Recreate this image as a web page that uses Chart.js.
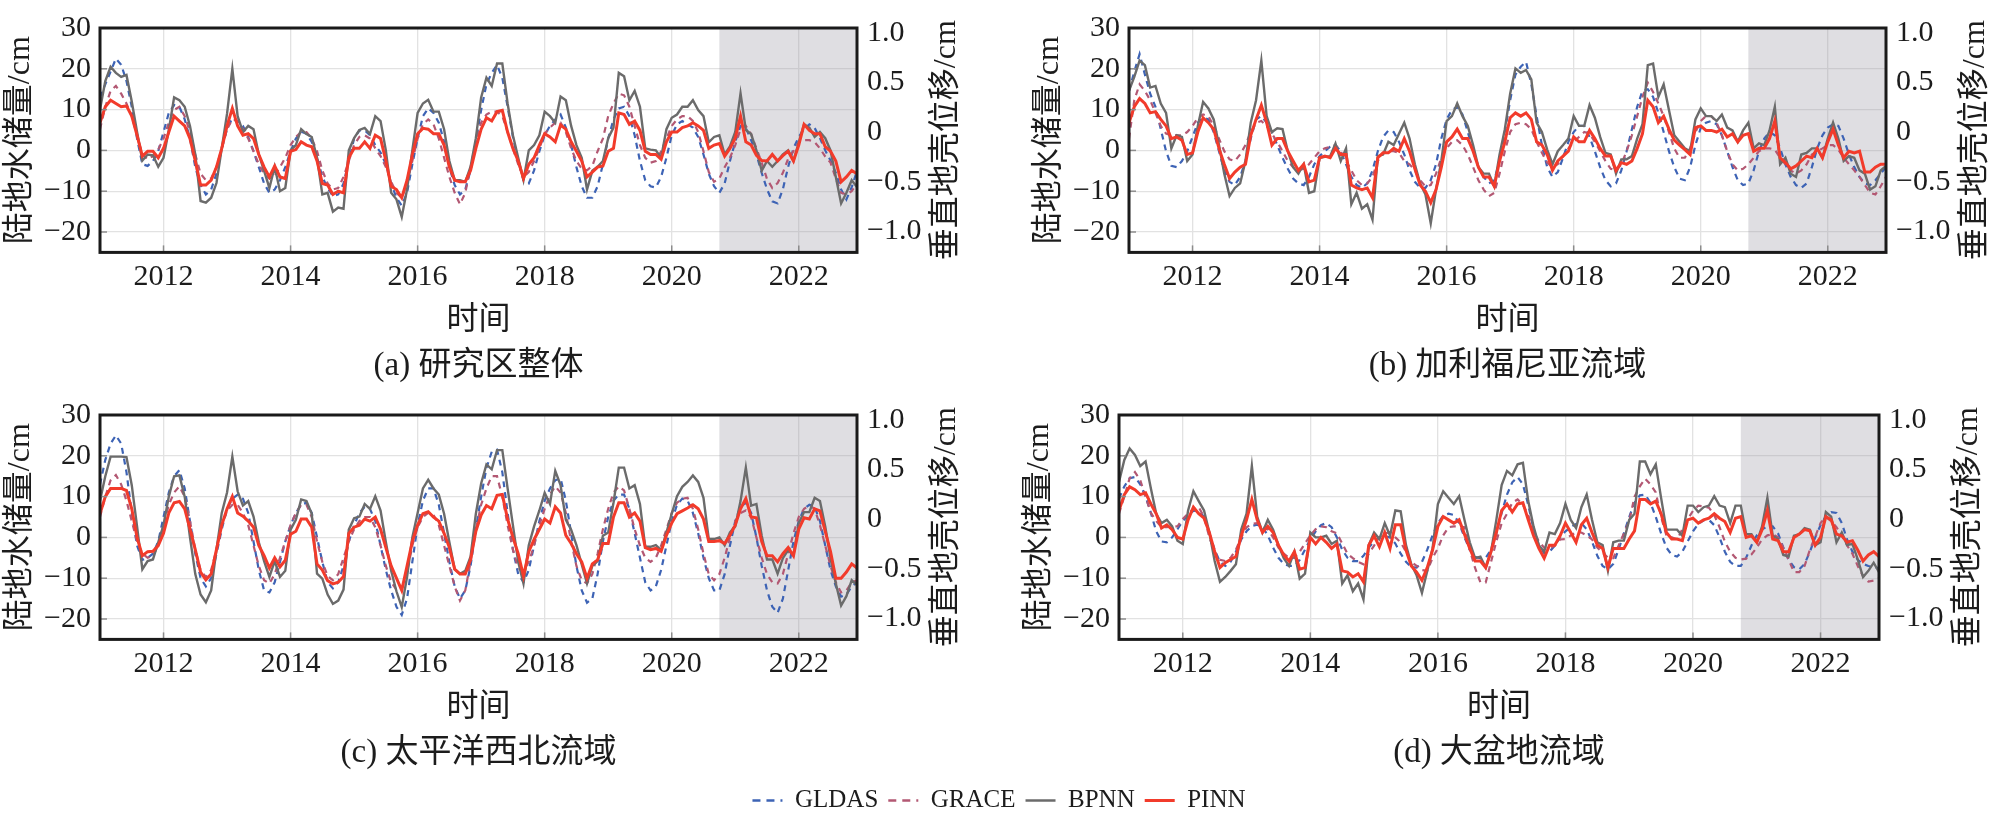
<!DOCTYPE html>
<html lang="zh-CN">
<head>
  <meta charset="UTF-8" />
  <title>陆地水储量与垂直地壳位移</title>
  <script src="https://cdn.jsdelivr.net/npm/chart.js"></script>
  <style>
    html, body { margin: 0; padding: 0; background: #fff; }
    body { width: 1998px; height: 822px; position: relative; overflow: hidden; }
    canvas { position: absolute; }
  </style>
</head>
<body>
  <canvas id="panelA" width="999" height="390" style="left:0;top:0"></canvas>
  <canvas id="panelB" width="969" height="390" style="left:1029px;top:0"></canvas>
  <canvas id="panelC" width="999" height="390" style="left:0;top:387px"></canvas>
  <canvas id="panelD" width="979" height="390" style="left:1019px;top:387px"></canvas>
  <canvas id="legend" width="1998" height="100" style="left:0;top:778px"></canvas>

  <script>
    // monthly series, Jan 2011 .. Dec 2022 (one row per year)
    const START_YEAR = 2011;
    const SHADE_START = 2020.75;
    const yearTicks = [2012, 2014, 2016, 2018, 2020, 2022];
    const twsTicks = [-20, -10, 0, 10, 20, 30];
    const dispTicks = [-1, -0.5, 0, 0.5, 1];
    const seriesNames = ['GLDAS', 'GRACE', 'BPNN', 'PINN'];
    const captions = ['(a) 研究区整体', '(b) 加利福尼亚流域', '(c) 太平洋西北流域', '(d) 大盆地流域'];

    // (a) 研究区整体
    const gldasA = [
      13, 16.2, 19.3, 22.5, 21, 17, 10.7, 2.9, -3.4, -3.8, -2.6, -0.2,
      4.5, 9.2, 11.1, 10.7, 7.6, 2.9, -4.1, -8.5, -10.8, -9.6, -5.7, 0.5,
      5.2, 8, 7.2, 6, 3.3, -0.2, -4.1, -8.1, -10.4, -9.6, -7.3, -4.1,
      -0.2, 2.9, 4.6, 4.1, 2.1, -1.8, -6.5, -9.2, -11.2, -10.8, -8.1, -2.6,
      2.9, 4.9, 4.9, 3.7, 1.3, -0.5, -3.4, -8.1, -11.6, -13.5, -10.4, -3.4,
      2.9, 8.4, 10.3, 9.2, 6.8, 2.1, -4.1, -8.5, -10.8, -9.6, -4.9, 2.1,
      9.9, 16.2, 19, 20.9, 17.8, 10.7, 3.3, -2.6, -7.3, -8.1, -4.9, -0.2,
      3.7, 6, 7.6, 8.8, 5.6, 1.3, -4.1, -8.8, -11.6, -11.6, -8.8, -3.4,
      2.9, 7.6, 10.3, 10.7, 8.4, 3.7, -2.6, -7.3, -8.8, -9.1, -6.5, -1.8,
      3.7, 6.4, 7.2, 6.4, 5.6, 3.3, -1, -5.7, -8.8, -10.4, -8.1, -2.6,
      2.1, 6, 5.5, 2.5, -1, -5.5, -9.5, -12.5, -13, -9.5, -4, 0.5,
      3.3, 5.2, 6.4, 5.5, 3, 0, -2.5, -5.5, -9.6, -12, -9, -5
    ];
    const graceA = [
      5.2, 10.7, 14.6, 15.8, 13.9, 11.5, 8.4, 3.7, -1, -2.2, -1.4, 0.2,
      2.9, 6.8, 9.9, 10.7, 8.4, 4.5, -1, -5.7, -7.3, -6.9, -4.1, 0.5,
      5.2, 7.6, 7.2, 5.2, 2.9, -0.2, -3.4, -5.7, -6.9, -6.1, -4.1, -1.8,
      1.3, 3.3, 4.5, 4.5, 2.9, -0.2, -4.9, -8.1, -9.6, -9.2, -6.5, -2.6,
      1.3, 3.3, 3.7, 2.9, 0.5, -1.4, -4.1, -7.7, -10.4, -11.6, -8.1, -2.6,
      2.9, 6.4, 7.6, 6.4, 2.9, -1.8, -6.5, -10.4, -13.2, -10.4, -4.1, 2.1,
      6.8, 8.8, 9.5, 9.5, 8.4, 4.5, 0.5, -3.4, -6.5, -5.3, -2.6, 0.5,
      4.1, 5.6, 6.8, 6.8, 4.5, 0.5, -2.6, -4.5, -4.9, -3.8, -0.2, 2.9,
      8.4, 11.5, 13.9, 13.5, 10.7, 6, 1.3, -1.8, -3, -2.6, -0.2, 2.9,
      6, 7.6, 8.4, 8.4, 7.2, 4.5, -0.2, -5.3, -7.7, -6.9, -4.1, -1.8,
      1.3, 5.2, 6, 4, 0.5, -3, -7, -9.2, -8, -5.5, -2, -0.2,
      2, 2.5, 2.5, 2, 0.5, -1.5, -3, -6.9, -10.4, -10.8, -10, -8
    ];
    const bpnnA = [
      10, 17, 20.5, 19, 18, 18.5, 12, 4.5, -2.5, -1, -1.2, -4,
      -1.8, 5, 13, 12.3, 10.7, 6, -1, -12.4, -12.8, -11.6, -8, 0.5,
      9, 20, 8.4, 4.5, 6, 5.2, -1, -5, -9.2, -4, -10, -9.2,
      0, 1.3, 5.2, 4, 3.3, -1.8, -10.8, -10.4, -15, -14, -14.3, 0,
      3, 5, 5.5, 4, 8.4, 7.2, 0, -10.4, -12, -16.3, -9.6, 0,
      9.2, 11.5, 12.4, 9.5, 9.5, 5.2, -2.6, -7.3, -7.3, -7.7, -4, 3,
      13, 17.8, 15.8, 21.3, 21.3, 11.5, 3.7, -1.8, -7.3, 0, 1.3, 3.7,
      9.5, 8.4, 6.8, 13.2, 12.3, 6, 1.3, -1.8, -9.6, -5, -4, -2.6,
      3, 5.6, 19, 18.2, 12.3, 14.6, 10.7, 0.5, 0.2, 0, -1.8, 5.2,
      8, 8.8, 10.7, 10.7, 12.3, 9.9, 8.4, 2, 3.3, 3.7, -1, 1,
      4.5, 14, 5, 4, 0, -5, -2.6, -4, -2.6, -1, 0, -2.6,
      2, 6.4, 5.6, 3.3, 4.5, 3, 0, -6.5, -13, -10.4, -7.3, -9
    ];
    const pinnA = [
      6.8, 10.7, 12.3, 11.5, 10.7, 10.9, 8.4, 3.7, -1.4, -0.2, -0.2, -1.8,
      0.5, 4.5, 8.4, 7.2, 6, 2.9, -2.6, -8.5, -8.5, -7.3, -4.1, 0.5,
      6, 10.3, 6, 3.7, 4.1, 2.9, -1, -4.1, -6.5, -3.8, -6.5, -6.9,
      -0.2, 0.2, 2.1, 1.3, 0.9, -2.6, -8.1, -8.5, -10.8, -10, -10.4, -1.8,
      0.5, 0.5, 2.1, 0.5, 3.7, 2.9, -2.5, -8.8, -9.6, -11.6, -7.3, -1,
      4.1, 5.4, 5.2, 4.1, 4.1, 1.3, -4.1, -7.3, -7.7, -7.7, -4.9, 0.5,
      5.2, 8, 7.2, 9.5, 9.8, 4.5, 0.5, -2.6, -6.9, -3.4, -1.8, 1.3,
      4.1, 3.3, 2.1, 6.2, 5.2, 2.1, -0.2, -2.6, -6.5, -5.3, -4.1, -3.8,
      -0.2, 0.5, 9.2, 8.8, 6.4, 7.2, 4.9, -0.2, -1, -1, -2.2, 2.1,
      4.5, 4.5, 5.6, 6, 6.8, 6, 4.9, 0.5, 1.3, 1.7, -1.4, 0.5,
      3, 8.4, 2.1, 1.3, -1.2, -2.5, -2.6, -1, -2.6, -1.3, -0.2, -2.6,
      1.3, 6.4, 4.9, 4.1, 4.1, 0.9, -0.2, -2.6, -7.7, -6.5, -4.9, -5.7
    ];

    // (b) 加利福尼亚流域
    const gldasB = [
      14.6, 19.3, 23.6, 18.6, 13.9, 10.7, 5.2, -0.2, -3.8, -4.1, -2.6, -0.2,
      3.3, 6.8, 8, 7.6, 4.5, -0.2, -4.9, -7.7, -8.5, -6.5, -2.6, 2.9,
      7.6, 8.4, 6.8, 4.5, 1.3, -1.8, -4.5, -6.9, -8.1, -8.5, -6.5, -3.4,
      -1.4, -0.2, 0.9, 1.3, -0.2, -3.4, -6.5, -8.5, -9.2, -8.1, -4.9, -0.2,
      3.3, 4.9, 4.5, 2.1, -1, -4.9, -7.7, -9.2, -9.2, -7.3, -3.4, 2.9,
      7.6, 9.9, 10.7, 8.8, 4.5, -0.2, -4.1, -6.5, -8.1, -7.3, -2.6, 4.5,
      12.3, 18.6, 20.5, 21.7, 16.2, 8.4, 1.3, -4.1, -6.5, -5.3, -1.8, 2.1,
      4.5, 6, 6, 3.3, -0.2, -4.1, -7.3, -8.8, -8.1, -4.9, -0.2, 5.2,
      10.7, 14.6, 15, 13.1, 9.2, 4.5, -0.2, -4.1, -6.9, -7.3, -4.1, 1.3,
      5.5, 6.8, 7.2, 6.4, 3.7, -0.2, -4.1, -7.3, -8.5, -8.1, -4.9, -0.2,
      2.9, 4.5, 3.7, 0.5, -3.4, -6.5, -8.5, -9.2, -8.1, -4.1, 0.5, 3.7,
      5.6, 6.4, 6, 2.9, -1, -4.1, -6.5, -8.1, -8.5, -7.3, -5.7, -4.1
    ];
    const graceB = [
      2.9, 12.3, 16.2, 14.6, 12.3, 9.2, 6, 4.1, 3.7, 3.7, 3.7, 4.5,
      6, 8, 8.8, 8.4, 6, 2.9, -0.2, -2.2, -2.6, -1, 1.3, 4.5,
      6.8, 7.2, 6, 4.1, 2.1, -0.2, -2.6, -4.1, -4.9, -4.5, -3.4, -1.8,
      -0.2, 0.5, 0.9, 1.3, -0.2, -2.6, -4.9, -7.3, -8.5, -8.1, -6.5, -2.6,
      -0.6, -0.2, -0.2, -0.6, -2.6, -3.4, -4.9, -7.3, -8.8, -8.5, -5.7, -1.8,
      0.5, 2.1, 2.5, 1.3, -1, -4.1, -7.3, -9.6, -11.2, -10.4, -5.7, -0.2,
      4.5, 6.4, 6.8, 6.4, 5.2, 2.1, -0.6, -3, -4.1, -3.4, -1.4, 0.5,
      2.1, 3.3, 4.5, 4.1, 2.1, -0.2, -2.6, -4.5, -4.9, -3.4, -0.2, 3.7,
      8.4, 13.1, 16.6, 14.3, 11.5, 8.4, 4.5, 0.5, -1.8, -1.8, 0.5, 4.5,
      7.2, 8.4, 8.4, 6.8, 3.7, -0.2, -3.4, -4.9, -4.5, -3.4, -1.8, -0.2,
      0.5, 0.5, 0.2, -1.8, -3.4, -4.9, -5.7, -4.9, -3.4, -1, -0.2, 0.5,
      1.3, 1.3, 0.2, -1.8, -3.4, -4.9, -6.5, -8.5, -10.4, -10.8, -8.8, -6.5
    ];
    const bpnnB = [
      14.6, 18, 22, 20.9, 15.4, 15.8, 11.5, 9.2, 0.5, 3.7, 3.3, -2.6,
      -1, 6, 11.9, 10.3, 7.6, 1.3, -5.7, -11.2, -9.2, -8.1, -2.6, 6.8,
      12.3, 22, 8.4, 4.5, 5.4, 5.2, -0.2, -4.1, -5.7, -3.4, -10.4, -10,
      -1.8, -1.6, -1.4, 1.7, -2.6, 0.5, -13.2, -10.4, -14.3, -13.2, -17, -1.4,
      -1, 2.1, 1.3, 4.1, 6.8, 2.9, -3.4, -8.1, -10.8, -17.9, -9.6, -2.6,
      7.2, 8.4, 11.5, 8.4, 6, 1.3, -4.1, -5.7, -5.7, -8.8, -1, 5.2,
      13.9, 20.1, 19, 19.7, 17.4, 6.8, 4.5, 0.2, -3.4, -0.2, 1.3, 2.9,
      8.4, 6, 6, 11.1, 8, 3.3, -0.6, -1, -5.7, -2.2, -2.2, -1.4,
      2.9, 6.4, 20.9, 21.3, 13.1, 16.2, 9.9, 3.7, 2.1, 0.5, -0.2, 7.6,
      10.3, 8.4, 8.4, 7.2, 8.8, 5.6, 4.9, 2.1, 4.9, 6.8, 0.5, 1.7,
      1.3, 4.9, 10.7, -3.4, -1.8, -5.7, -6.5, -1, -0.6, 0.5, 0.5, -1.8,
      2.9, 6.8, 2.9, -2.6, -1.4, -1.8, -4.9, -5.7, -9.6, -8.8, -4.9, -3.8
    ];
    const pinnB = [
      6.8, 10.7, 12.7, 11.5, 9.2, 9.5, 7.6, 6, 2.9, 3.3, 2.5, -1,
      -0.6, 4.5, 8, 6.8, 5.2, 0.5, -3.4, -6.9, -5.3, -4.1, -3.4, 3.7,
      7.6, 11.1, 6.8, 1.3, 2.9, 2.9, -0.2, -2.6, -4.9, -3.4, -7.7, -7.3,
      -1.8, -1.4, -1.8, 0.5, -1, -1, -8.5, -9.2, -9.6, -9.2, -11.6, -1.8,
      -0.6, -0.6, 0.5, -0.2, 2.9, -0.2, -4.5, -8.5, -10, -12.8, -9.6, -4.1,
      2.1, 3.3, 5.2, 2.9, 2.9, -0.2, -4.1, -6.5, -6.5, -8.8, -2.6, 2.1,
      8, 9.2, 8.4, 9.2, 7.6, 2.1, 1.3, -1, -4.9, -2.6, -1.4, -0.2,
      3.3, 2.1, 2.1, 4.9, 2.9, 0.5, -1.4, -1.4, -4.9, -3, -3.4, -2.6,
      0.5, 4.1, 12.3, 10.7, 6.8, 8.4, 5.2, 2.5, 1.3, 0.2, -1, 5.6,
      6, 4.9, 4.9, 4.5, 5.2, 3.3, 4.1, 2.1, 3.7, 4.1, -0.2, 0.5,
      0.5, 2.9, 7.2, -1.8, -3, -4.5, -3.8, -2.6, -1.4, -1.8, 0.5, -1.8,
      2.1, 5.2, 1.3, -1.8, -0.2, -0.6, -0.2, -5.3, -5.3, -4.1, -3.4, -3.4
    ];

    // (c) 太平洋西北流域
    const gldasC = [
      13, 19, 23, 25, 23, 16, 6, -2, -5.5, -5, -4, -1,
      5, 11, 15, 16.5, 12, 4, -4, -10, -12, -10, -4, 2,
      7, 9.5, 10.5, 9.5, 6, -1, -8, -13, -13.5, -11, -6, -1,
      3, 6, 8, 8.5, 6, 0, -6, -11, -12.5, -11, -7, -1,
      3, 6, 7.5, 7, 4, -2, -8, -13, -17, -19, -15, -6,
      3, 9, 12, 12, 8, 1, -6, -12, -15, -13, -7, 2,
      10, 17, 21, 21.5, 16, 6, -3, -9, -11, -8, -2, 4,
      9, 12, 14, 14.5, 9, 1, -7, -13, -16, -15, -9, -1,
      5, 9, 10.5, 10.5, 7, 1, -5, -11, -13, -12, -8, -2,
      4, 8, 9.5, 9, 6, 1, -5, -10, -13, -13, -9, -2,
      4, 7.5, 8.5, 6, 0, -7, -13, -17, -18.5, -15, -8, -1,
      4, 7, 8, 7.5, 4, -2, -8, -12, -14.5, -14, -12, -11
    ];
    const graceC = [
      5, 10, 14, 15.3, 13, 9, 4, -1, -4, -5, -4.5, -2,
      3, 8, 11, 12.5, 10, 4, -3, -8, -9.7, -8, -3, 3,
      6.5, 8, 8, 6, 3, -2, -7, -10.5, -11.3, -9, -5, -1,
      3, 6, 8, 8, 5, -1, -6, -9.5, -10.5, -9, -5, -1,
      2, 4, 5, 5, 2.5, -2, -7, -11, -12.8, -12.5, -8.5, -2,
      2.5, 5, 6, 5.5, 3, -2, -7, -12, -15.5, -13, -6, 2,
      8, 12, 15, 15, 10, 3, -3, -7.5, -8.2, -6, -2, 3,
      7, 10.5, 12.5, 11, 6, -1, -7, -10.5, -11.3, -9, -4, 2,
      7, 11, 12.5, 11.5, 7, 2, -2, -5, -6, -5, -2, 2,
      6, 8.5, 9.5, 9.7, 7, 2, -4, -9, -10.5, -9, -5, 0,
      4, 6, 6.6, 5, 0, -5, -9, -11, -11.3, -9, -4, 1,
      5, 7, 7.8, 7, 3, -2, -7, -11, -13.5, -13, -11, -10.5
    ];
    const bpnnC = [
      9, 15, 19.8, 19.8, 19.8, 19.7, 12.8, 2.7, -7.8, -5.8, -5.4, -1.2,
      3, 10, 15, 15.2, 10, 0, -9, -14, -15.9, -13, -3, 6,
      11, 19.8, 11.3, 7.8, 8.9, 5.1, -1.2, -5.8, -9.7, -5.8, -9.7, -8.2,
      1.9, 4.3, 9.3, 8.9, 5.8, -8.9, -10.1, -14, -16.3, -15.5, -12.8, 1.9,
      4.7, 5.1, 8.2, 7, 10.1, 6.6, -1.2, -8.2, -13.2, -17.1, -9.7, 0,
      6, 12, 14.1, 12, 10.5, 5.8, -1.2, -7.8, -8.9, -8.2, -4.7, 5.8,
      13.2, 17.9, 16.7, 21.4, 21.4, 12, 3, -6, -11.3, -1.9, 2.7, 6.6,
      10.9, 8.2, 16.3, 12.8, 4.3, 1.9, -1.9, -6.6, -11.3, -7, -5.8, 0.4,
      1.2, 8.5, 17.1, 17.1, 12, 12.8, 8.2, -2.3, -2.3, -1.9, -3.1, 1.2,
      5.8, 10.1, 12.4, 13.6, 15.2, 13.6, 9.7, -0.4, -0.4, 0, -1.9, 1.2,
      2.7, 8.9, 17.1, 7.8, 8.2, 0.4, -5.4, -5.4, -8.9, -5.1, -3.1, -4.3,
      3.5, 6.2, 6.2, 9.7, 8.9, 2.7, -5.1, -11.3, -16.7, -14.4, -10.5, -11.7
    ];
    const pinnC = [
      5.8, 10, 12, 12, 12, 11.5, 7, 0, -4.5, -3.5, -3.4, -2,
      1, 6, 8.5, 8.8, 7, 2, -3, -8.5, -10.4, -9, -3, 3,
      7, 10, 6, 5.2, 4, 2.5, -2, -4.5, -7.5, -5, -7.2, -5.6,
      0.8, 1.5, 4.5, 4.5, 2.5, -6.5, -8, -10.6, -11.4, -11, -9.6, 1,
      2.5, 3, 4.5, 4, 5, 2, -2.5, -7, -10, -13, -7, -1,
      3, 5.8, 6.3, 5, 4, 1, -2.5, -7.8, -9, -9, -5.5, 1.5,
      5.5, 7.8, 7, 10.3, 10.5, 4.5, 0, -4, -9.5, -3.5, -0.5, 2,
      4.5, 3.5, 7.5, 6, 0.5, -1.5, -4, -6, -10, -6.5, -5.5, -1.5,
      -1.5, 5, 8.5, 8.5, 5, 6, 4, -2.5, -3, -2.7, -3.4, 0.5,
      3.5, 5.8, 6.5, 7.2, 8, 7, 4.5, -1, -1, -0.8, -1.5, 0.5,
      3, 7, 9.5, 5, 4.8, -1, -4.5, -4.5, -6, -4, -2.5, -4.5,
      2, 4.8, 4.5, 7, 6.5, 1.5, -3.5, -10, -10, -8.5, -6.5, -7.5
    ];

    // (d) 大盆地流域
    const gldasD = [
      9.5, 12.5, 14.5, 14.8, 13, 10, 6, 1.5, -1, -1.2, 0, 2,
      4, 5.5, 6.5, 6.6, 5, 1, -3, -6, -7, -6, -3.5, -0.5,
      1.5, 2.8, 3.1, 2.5, 0.5, -2.5, -5, -6.5, -7, -7, -5.5, -3,
      -0.5, 1.5, 3, 3.5, 2.5, 0, -3, -5, -5.8, -5.8, -4.5, -2.5,
      -1, 0, 0.2, 0, -1.5, -4, -6, -7.3, -7.4, -6, -3, 0.5,
      3.5, 5.3, 5.8, 5.5, 3.5, 0, -3, -4.8, -5.1, -5, -3, 1,
      6, 10.5, 13.5, 14.8, 13, 8, 2, -2, -3.9, -3.5, -2, 0,
      1.5, 2.5, 3.3, 3.5, 2, -1, -4.5, -7, -7.8, -6.5, -3, 1,
      5, 8.5, 10.3, 10.5, 8.5, 5, 1, -2.5, -4.3, -4.7, -3.5, -1,
      1.5, 3.3, 4.2, 4.3, 3, 0, -3.5, -6, -7, -7, -5, -2,
      0.5, 2, 2.7, 2.7, 1, -2.5, -5.5, -7.3, -7.8, -6.5, -3.5, 0,
      3, 5.2, 6.2, 6, 3.5, -0.5, -3.5, -5.5, -6.5, -7, -7.3, -7.5
    ];
    const graceD = [
      5.8, 10, 14.5, 16, 14, 10, 6, 4, 2.5, 2.5, 2.7, 2.7,
      4.5, 5.8, 7, 7.4, 5, 0, -3.5, -5.5, -5.8, -5, -3, 0,
      2.5, 3.3, 3.5, 2.5, 2, 0, -2.5, -4, -5, -5, -3.5, -1.5,
      0.5, 2, 2.7, 2.5, 1.5, 1, -1.5, -4, -5.1, -6, -6.6, -4,
      -2, 0, 1, 1.2, 0, -1.2, -3.5, -6, -7, -8, -8.2, -5,
      -2.7, 0.5, 2.5, 2.7, 2.7, 2.5, -3, -7.5, -11, -11, -6, -1,
      3.5, 5.8, 8.5, 9.3, 8, 5.5, 1.5, -1, -2.5, -2.7, -2, -0.5,
      -0.4, 0.5, 1.2, 1.2, 0.5, -0.5, -2.5, -3.7, -5, -5.1, -2, 1,
      4, 10, 12.5, 14.4, 13, 11, 5, 0.5, 0, -0.5, 2, 4.5,
      6.5, 7.8, 7.6, 7.3, 5.5, 2.5, -1, -3.5, -5, -5.4, -5.2, -4.2,
      -2.5, -0.5, 0.5, 0.8, 0, -2.5, -5.5, -8.5, -8.5, -7, -3, 0.2,
      3.5, 5, 4, 2.5, 0.5, -2, -4, -7, -9.5, -10.8, -10.6, -10
    ];
    const bpnnD = [
      13.6, 19, 21.8, 20.2, 17.5, 18.6, 12, 5.8, 3.5, 4.3, 2.7, -0.8,
      -1.6, 6.6, 11.3, 8.9, 6.6, 1.2, -5.8, -10.9, -9.7, -8.2, -6.6, 1.9,
      5.8, 17.5, 5.1, 1.2, 4.3, 1.9, -1.9, -5.1, -7, -3.5, -10.1, -8.9,
      1.2, 0, 0, 0.4, -1.6, -0.8, -11.3, -9.3, -13.2, -11.3, -15.2, -1.9,
      1.2, -0.4, 3.5, 0.4, 6.6, 6.4, -1.9, -6.6, -9.3, -13.6, -8.2, -2.7,
      8.2, 11.3, 9.7, 8.2, 10.1, 4.3, -1.2, -5.1, -4.7, -7.4, -3.5, 4.3,
      12.8, 16.3, 15.2, 17.9, 18.3, 8.9, 2.7, -1.9, -3.5, 1.2, 0.8, 3.5,
      8.2, 4.3, 2.3, 7.4, 10.5, 4.3, -1.2, -1.9, -8.2, -1.2, -0.8, -0.8,
      4.3, 5.8, 18.6, 18.6, 15.5, 17.9, 9.7, 1.9, 1.9, 1.9, 0.4, 7.8,
      7.8, 6.2, 7.4, 7.8, 10.1, 7.8, 7.4, 3.5, 7.8, 7.8, 0.8, 0.8,
      -1.2, 2.7, 9.7, 0.4, -0.4, -4.3, -4.7, 0.4, 0.8, 2.3, 1.9, -1.9,
      -1.2, 6.2, 5.1, -1.2, 1.2, -1.9, -1.6, -5.4, -9.7, -8.2, -6.2, -8.5
    ];
    const pinnD = [
      6.6, 10.5, 12.4, 11.7, 10.5, 10.9, 8.2, 5.8, 2.3, 3.1, 1.9, 0,
      -0.4, 4.3, 7.4, 5.8, 4.7, 1.2, -3.5, -7.4, -6.2, -5.4, -4.7, 0.4,
      4.3, 9.3, 4.3, 1.2, 2.7, 1.2, -1.9, -4.3, -5.8, -3.5, -7.8, -7.4,
      0, -1.6, 0, -1.2, -2.7, -1.6, -8.2, -8.5, -9.7, -8.9, -10.9, -1.9,
      0.4, -2.3, 1.2, -2.7, 3.1, 3.1, -3.1, -7, -8.5, -10.5, -7.4, -3.1,
      2.7, 5.1, 4.3, 3.5, 4.3, 0.8, -2.7, -5.8, -5.8, -7.4, -3.5, 1.2,
      6.6, 8.2, 6.2, 8.2, 8.5, 4.3, 0.4, -2.7, -5.1, -1.9, -1.9, 0.4,
      3.5, 1.2, -1.2, 3.1, 4.7, 1.2, -1.9, -2.7, -7.4, -2.7, -2.7, -2.7,
      -0.4, 1.6, 9.3, 9.3, 8.2, 8.9, 5.8, 1.2, -0.4, -0.4, -0.8, 4.3,
      4.7, 3.5, 4.3, 4.7, 5.8, 4.7, 3.9, 1.2, 4.7, 5.1, 0, 0.4,
      -1.2, 1.9, 6.6, -0.4, -0.8, -3.5, -3.5, 0, 0.8, 1.9, 1.6, -1.9,
      0, 5.1, 4.3, 0.8, 0.4, -1.2, -0.8, -3.1, -5.8, -4.3, -3.5, -4.7
    ];

    const SERIF = "'Liberation Serif', 'Noto Sans CJK SC', serif";
    const INK = '#1c1c1c';
    const GRID = '#e2e2e2';

    // line looks, in the order of seriesNames
    const seriesStyle = [
      { borderColor: '#3d63b5', borderWidth: 2.2, borderDash: [6, 5], order: 3 },
      { borderColor: '#b35873', borderWidth: 2.2, borderDash: [6, 5], order: 2 },
      { borderColor: '#6b6b6b', borderWidth: 2.4, borderDash: [], order: 1 },
      { borderColor: '#f23b2b', borderWidth: 3, borderDash: [], order: 0 }
    ];

    const monthly = values => values.map((v, i) => ({ x: START_YEAR + i / 12, y: v }));
    const minus = s => String(s).replace('-', '\u2212');

    // grey validation band, frame, small inner ticks, right-hand title
    const framePlugin = {
      id: 'frame',
      beforeDatasetsDraw(chart) {
        const { ctx, chartArea: a, scales: { x } } = chart;
        const xs = x.getPixelForValue(SHADE_START);
        ctx.save();
        ctx.fillStyle = 'rgba(150, 147, 160, 0.3)';
        ctx.fillRect(xs, a.top, a.right - xs, a.bottom - a.top);
        ctx.restore();
      },
      afterDraw(chart, args, opts) {
        const { ctx, chartArea: a, scales: { x, y, y2 } } = chart;
        ctx.save();
        ctx.strokeStyle = '#8c8c8c';
        ctx.lineWidth = 1.5;
        x.ticks.forEach(t => {
          const px = x.getPixelForValue(t.value);
          ctx.beginPath(); ctx.moveTo(px, a.bottom); ctx.lineTo(px, a.bottom - 7); ctx.stroke();
        });
        y.ticks.forEach(t => {
          const py = y.getPixelForValue(t.value);
          ctx.beginPath(); ctx.moveTo(a.left, py); ctx.lineTo(a.left + 7, py); ctx.stroke();
        });
        ctx.strokeStyle = '#1a1a1a';
        ctx.lineWidth = 3;
        ctx.strokeRect(a.left, a.top, a.right - a.left, a.bottom - a.top);
        ctx.translate(y2.left + 90, (a.top + a.bottom) / 2);
        ctx.rotate(-Math.PI / 2);
        ctx.font = '32px ' + SERIF;
        ctx.fillStyle = INK;
        ctx.textAlign = 'center';
        ctx.textBaseline = 'middle';
        ctx.fillText(opts.rightTitle, 0, 0);
        ctx.restore();
      }
    };

    const panels = [
      { id: 'panelA', caption: captions[0], series: [gldasA, graceA, bpnnA, pinnA], rightWidth: 142 },
      { id: 'panelB', caption: captions[1], series: [gldasB, graceB, bpnnB, pinnB], rightWidth: 112 },
      { id: 'panelC', caption: captions[2], series: [gldasC, graceC, bpnnC, pinnC], rightWidth: 142 },
      { id: 'panelD', caption: captions[3], series: [gldasD, graceD, bpnnD, pinnD], rightWidth: 119 }
    ];

    const tickFont = { family: SERIF, size: 30 };
    const titleFont = { family: SERIF, size: 32 };

    panels.forEach(p => {
      new Chart(document.getElementById(p.id), {
        type: 'line',
        data: {
          datasets: p.series.map((values, k) => ({
            label: seriesNames[k],
            data: monthly(values),
            ...seriesStyle[k],
            pointRadius: 0,
            tension: 0,
            fill: false
          }))
        },
        options: {
          responsive: false,
          animation: false,
          layout: { padding: { top: 16, left: 0, right: 0, bottom: 0 } },
          plugins: {
            legend: { display: false },
            tooltip: { enabled: false },
            title: {
              display: true,
              text: p.caption,
              position: 'bottom',
              fullSize: false,
              color: INK,
              font: { family: SERIF, size: 33, weight: 'normal' },
              padding: { top: 7, bottom: 4 }
            },
            frame: { rightTitle: '垂直地壳位移/cm' }
          },
          scales: {
            x: {
              type: 'linear',
              min: START_YEAR,
              max: START_YEAR + (p.series[0].length - 1) / 12,
              afterBuildTicks: s => { s.ticks = yearTicks.map(v => ({ value: v })); },
              afterFit: s => { s.height = 87; },
              grid: { color: GRID, lineWidth: 1.3, drawTicks: false },
              border: { display: false },
              ticks: { font: tickFont, color: INK, padding: 7, maxRotation: 0, callback: v => String(v) },
              title: { display: true, text: '时间', font: titleFont, color: INK, padding: { top: 0, bottom: 0 } }
            },
            y: {
              position: 'left',
              min: -25,
              max: 30,
              afterBuildTicks: s => { s.ticks = twsTicks.map(v => ({ value: v })); },
              afterFit: s => { s.width = 100; },
              grid: { color: GRID, lineWidth: 1.3, drawTicks: false },
              border: { display: false },
              ticks: { font: tickFont, color: INK, padding: 9, callback: v => minus(v) },
              title: { display: true, text: '陆地水储量/cm', font: titleFont, color: INK, padding: { top: 1, bottom: 0 } }
            },
            y2: {
              position: 'right',
              min: -1.21,
              max: 1.048,
              afterBuildTicks: s => { s.ticks = dispTicks.map(v => ({ value: v })); },
              afterFit: s => { s.width = p.rightWidth; },
              grid: { display: false, drawTicks: false },
              border: { display: false },
              ticks: { font: tickFont, color: INK, padding: 10, callback: v => (v === 0 ? '0' : minus(v.toFixed(1))) }
            }
          }
        },
        plugins: [framePlugin]
      });
    });

    // shared legend under the four panels
    new Chart(document.getElementById('legend'), {
      type: 'line',
      data: {
        datasets: seriesNames.map((name, k) => ({
          label: name,
          data: [],
          borderColor: seriesStyle[k].borderColor,
          borderWidth: k === 3 ? 3 : 2.5,
          borderDash: seriesStyle[k].borderDash.length ? [8, 6] : []
        }))
      },
      options: {
        responsive: false,
        animation: false,
        layout: { padding: 0 },
        scales: { x: { display: false }, y: { display: false } },
        plugins: {
          tooltip: { enabled: false },
          legend: {
            position: 'top',
            labels: {
              usePointStyle: true,
              pointStyle: 'line',
              pointStyleWidth: 30,
              padding: 10,
              color: INK,
              font: { family: SERIF, size: 25 },
              generateLabels: chart => chart.data.datasets.map((d, i) => ({
                text: d.label,
                strokeStyle: d.borderColor,
                fillStyle: d.borderColor,
                lineWidth: d.borderWidth,
                lineDash: d.borderDash,
                pointStyle: 'line',
                fontColor: INK,
                hidden: false,
                datasetIndex: i
              }))
            }
          }
        }
      }
    });
  </script>
</body>
</html>
